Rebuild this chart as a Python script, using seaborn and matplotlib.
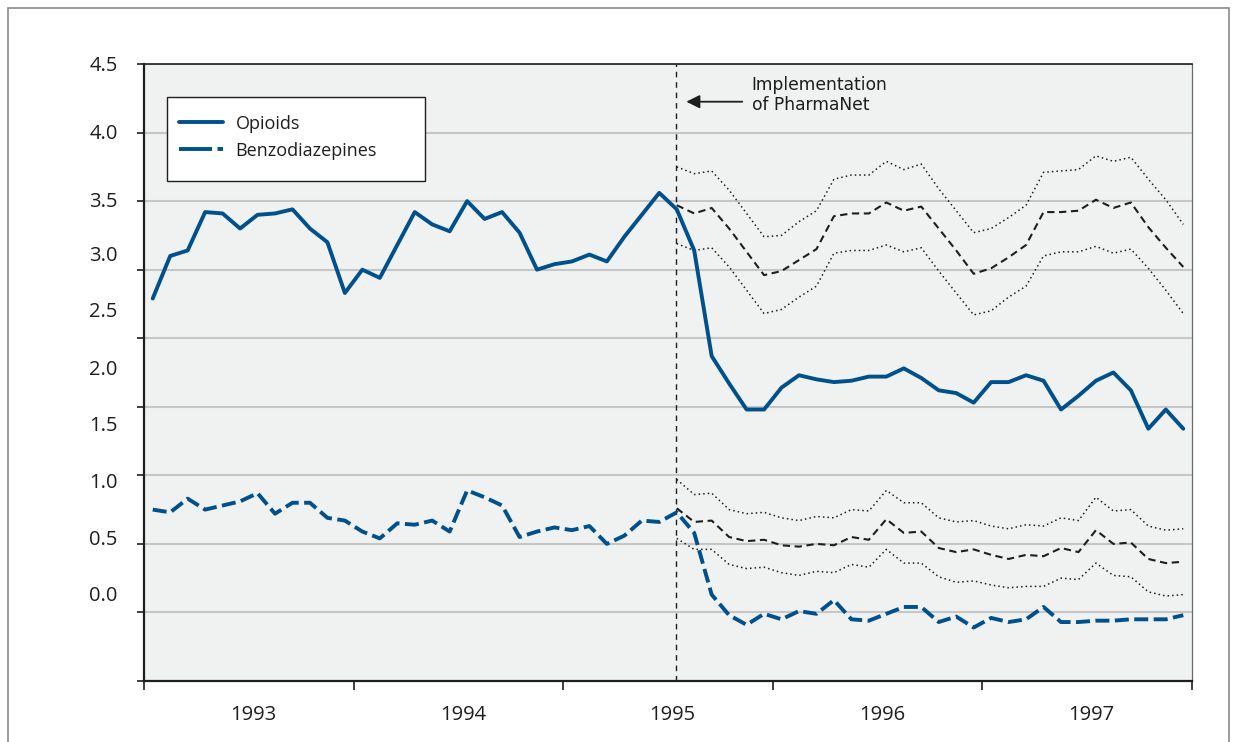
import numpy as np
import matplotlib
matplotlib.use("Agg")
import matplotlib.pyplot as plt
from matplotlib.lines import Line2D
from matplotlib.patches import Rectangle
from matplotlib.transforms import ScaledTranslation
import seaborn as sns

# monthly index, Jan 1993 .. Dec 1997
months = np.arange(60)
years = ["1993", "1994", "1995", "1996", "1997"]
pharmanet_month = 29.95

opioids = [2.79, 3.10, 3.14, 3.42, 3.41, 3.30, 3.40, 3.41, 3.44, 3.30,
           3.20, 2.83, 3.00, 2.94, 3.18, 3.42, 3.33, 3.28, 3.50, 3.37,
           3.42, 3.27, 3.00, 3.04, 3.06, 3.11, 3.06, 3.24, 3.40, 3.56,
           3.44, 3.14, 2.37, 2.17, 1.98, 1.98, 2.14, 2.23, 2.20, 2.18,
           2.19, 2.22, 2.22, 2.28, 2.21, 2.12, 2.10, 2.03, 2.18, 2.18,
           2.23, 2.19, 1.98, 2.08, 2.19, 2.25, 2.12, 1.84, 1.98, 1.84]

benzodiazepines = [1.25, 1.23, 1.33, 1.25, 1.28, 1.31, 1.37, 1.22, 1.30, 1.30,
                   1.19, 1.17, 1.09, 1.04, 1.15, 1.14, 1.17, 1.09, 1.39, 1.34,
                   1.28, 1.05, 1.09, 1.12, 1.10, 1.13, 1.00, 1.06, 1.17, 1.16,
                   1.23, 1.08, 0.63, 0.48, 0.41, 0.49, 0.45, 0.51, 0.49, 0.59,
                   0.45, 0.44, 0.49, 0.54, 0.54, 0.43, 0.47, 0.39, 0.46, 0.43,
                   0.45, 0.54, 0.43, 0.43, 0.44, 0.44, 0.45, 0.45, 0.45, 0.48]

# projected trend (no PharmaNet) from month 30 on, with upper / lower bounds
proj_months = np.arange(30, 60)
opi_proj = [3.47, 3.41, 3.45, 3.30, 3.13, 2.96, 2.99, 3.07, 3.15, 3.39,
            3.41, 3.41, 3.49, 3.43, 3.46, 3.30, 3.14, 2.97, 3.01, 3.09,
            3.18, 3.42, 3.42, 3.43, 3.51, 3.45, 3.49, 3.31, 3.16, 3.02]
opi_upper = [3.75, 3.70, 3.72, 3.58, 3.41, 3.24, 3.25, 3.35, 3.43, 3.66,
             3.69, 3.69, 3.79, 3.73, 3.77, 3.59, 3.43, 3.27, 3.30, 3.38,
             3.47, 3.71, 3.72, 3.73, 3.83, 3.79, 3.82, 3.66, 3.51, 3.33]
opi_lower = [3.19, 3.14, 3.16, 3.02, 2.85, 2.68, 2.71, 2.80, 2.88, 3.12,
             3.14, 3.14, 3.18, 3.13, 3.16, 2.99, 2.83, 2.67, 2.70, 2.80,
             2.88, 3.10, 3.13, 3.13, 3.17, 3.12, 3.15, 3.01, 2.85, 2.68]
benzo_proj = [1.26, 1.16, 1.17, 1.05, 1.02, 1.03, 0.99, 0.98, 1.00, 0.99,
              1.05, 1.03, 1.18, 1.08, 1.09, 0.97, 0.94, 0.96, 0.92, 0.89,
              0.92, 0.91, 0.97, 0.94, 1.10, 1.00, 1.01, 0.89, 0.86, 0.87]
benzo_upper = [1.47, 1.36, 1.37, 1.25, 1.22, 1.23, 1.19, 1.17, 1.20, 1.19,
               1.25, 1.24, 1.39, 1.30, 1.30, 1.19, 1.16, 1.17, 1.13, 1.11,
               1.14, 1.13, 1.19, 1.17, 1.34, 1.24, 1.25, 1.13, 1.10, 1.11]
benzo_lower = [1.04, 0.96, 0.96, 0.85, 0.82, 0.83, 0.79, 0.77, 0.80, 0.79,
               0.85, 0.83, 0.96, 0.86, 0.86, 0.76, 0.72, 0.73, 0.70, 0.68,
               0.69, 0.69, 0.75, 0.74, 0.86, 0.77, 0.76, 0.65, 0.62, 0.63]

y_ticks = [0.0, 0.5, 1.0, 1.5, 2.0, 2.5, 3.0, 3.5, 4.0, 4.5]
y_labels = ["0.0", "0.5", "1.0", "1.5", "2.0", "2.5", "3.0", "3.5", "4.0", "4.5"]
# the printed labels drift upward from their ticks in the original figure
label_nudge_px = [88, 75, 63, 52, 39, 29, 16, 2, 1, 0]

BLUE = "#00508c"
INK = "#1e1e1e"

sns.set_theme(style="ticks")
plt.rcParams["font.family"] = ["Open Sans", "DejaVu Sans"]

fig = plt.figure(figsize=(12.33, 7.42), dpi=100)
ax = fig.add_axes([0.11679, 0.08221, 0.84996, 0.83154])
ax.set_facecolor("#f0f1f1")

# projections
for vals, style, lw in [(opi_upper, (0, (1, 2)), 1.1), (opi_lower, (0, (1, 2)), 1.1),
                        (benzo_upper, (0, (1, 2)), 1.1), (benzo_lower, (0, (1, 2)), 1.1),
                        (opi_proj, (0, (3.5, 2.2)), 1.5), (benzo_proj, (0, (3.5, 2.2)), 1.5)]:
    sns.lineplot(x=proj_months, y=vals, ax=ax, color=INK, linewidth=lw,
                 linestyle=style, zorder=3)

sns.lineplot(x=months, y=opioids, ax=ax, color=BLUE, linewidth=2.8, zorder=4)
sns.lineplot(x=months, y=benzodiazepines, ax=ax, color=BLUE, linewidth=2.8,
             linestyle=(0, (3.6, 1.4)), dash_capstyle="butt", zorder=4)

ax.axvline(pharmanet_month, color=INK, lw=1.0, ls=(0, (4, 3.5)), zorder=3)

ax.set_xlim(-0.5, 59.5)
ax.set_ylim(0, 4.5)
ax.set_xlabel("")
ax.set_ylabel("")

# x axis: year boundaries as ticks, year names centred in between
ax.set_xticks(np.arange(-0.5, 60, 12))
ax.set_xticklabels([])
ax.set_xticks(np.arange(len(years)) * 12 + 5.75, minor=True)
ax.set_xticklabels(years, minor=True)
ax.tick_params(axis="x", which="major", direction="out", length=6.5, width=1.2, color=INK)
ax.tick_params(axis="x", which="minor", length=0, pad=17, labelsize=14.5, labelcolor=INK)

ax.set_yticks(y_ticks)
ax.set_yticklabels(y_labels)
ax.tick_params(axis="y", direction="out", length=5, width=1.2, color=INK,
               pad=14, labelsize=14.5, labelcolor=INK)
for lab, dy in zip(ax.get_yticklabels(), label_nudge_px):
    lab.set_transform(lab.get_transform() + ScaledTranslation(0, dy / 100, fig.dpi_scale_trans))

ax.grid(axis="y", color="#c6c6c6", lw=1.5)
ax.grid(axis="x", visible=False)
ax.set_axisbelow(True)

for side in ["left", "bottom"]:
    ax.spines[side].set_color(INK)
    ax.spines[side].set_linewidth(1.6)
ax.spines["top"].set_color(INK)
ax.spines["top"].set_linewidth(1.2)
ax.spines["right"].set_color("#6a6a6a")
ax.spines["right"].set_linewidth(0.9)

# annotation
ax.annotate("", xy=(30.55, 4.225), xytext=(33.75, 4.225),
            arrowprops=dict(arrowstyle="-|>", color=INK, lw=1.3, mutation_scale=20,
                            shrinkA=0, shrinkB=0))
ax.text(34.3, 4.275, "Implementation\nof PharmaNet", ha="left", va="center",
        fontsize=12.3, family="DejaVu Sans", color=INK, linespacing=1.15)

# legend box and entries
ax.add_patch(Rectangle((0.0219, 0.8104), 0.2462, 0.1361, transform=ax.transAxes,
                       facecolor="white", edgecolor=INK, lw=1.0, zorder=5))
handles = [Line2D([], [], color=BLUE, lw=2.8),
           Line2D([], [], color=BLUE, lw=2.8, ls=(0, (8.5, 1.4)), dash_capstyle="butt")]
leg = ax.legend(handles, ["Opioids", "Benzodiazepines"], loc="upper left",
                bbox_to_anchor=(0.0334, 0.918), frameon=False, borderaxespad=0,
                borderpad=0, fontsize=13, handlelength=2.45, handletextpad=0.68,
                labelspacing=0.5)
leg.set_zorder(6)
for t in leg.get_texts():
    t.set_color(INK)

# outer frame of the figure
fig.patches.append(Rectangle((8 / 1233, -0.05), 1221 / 1233, 1.05 - 8 / 742,
                             transform=fig.transFigure, fill=False,
                             edgecolor="#8a8a8a", lw=1.2))

fig.savefig("out.png", dpi=100)
